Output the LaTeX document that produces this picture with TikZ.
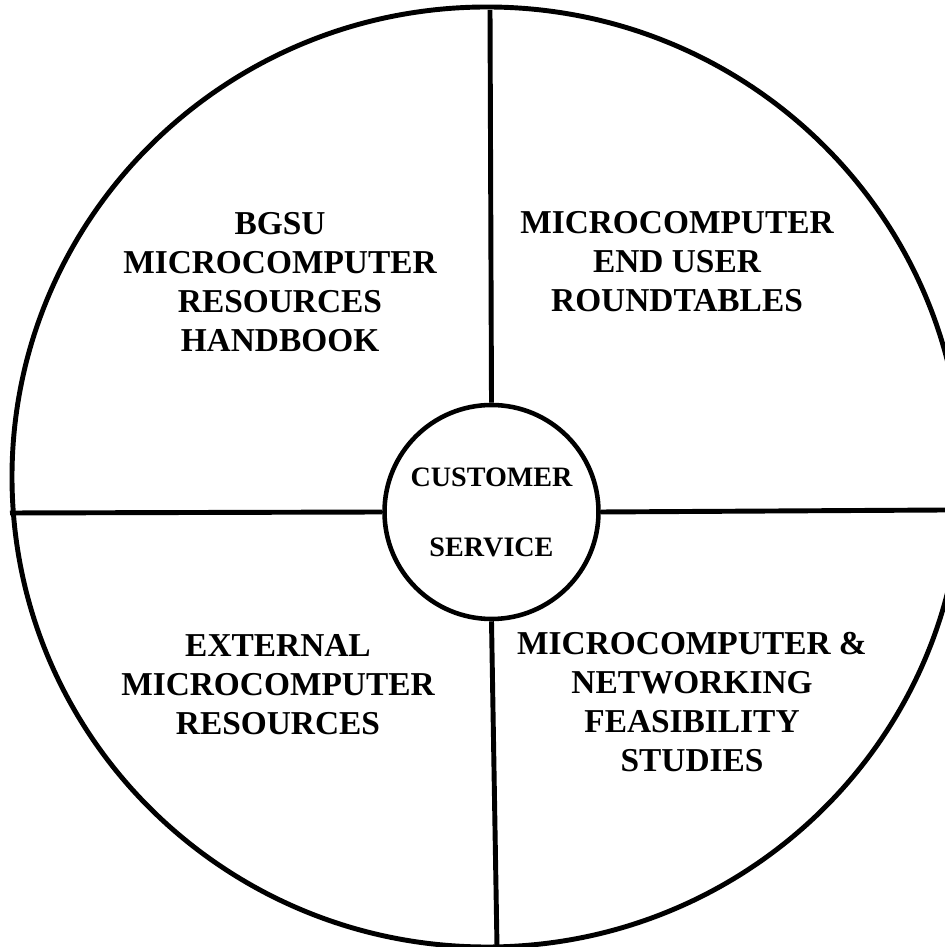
\documentclass[tikz,border=0pt]{standalone}
\usepackage{fontspec}
\setmainfont{Liberation Serif}
\begin{document}
\begin{tikzpicture}[
 rim/.style={line width=1.4pt},
 quadtext/.style={font=\bfseries\fontsize{9.5}{11.1}\selectfont, align=center},
 hub/.style={circle, draw, line width=1.3pt, minimum size=2.14cm, inner sep=0pt,
  align=center, font=\bfseries\fontsize{8}{19.9}\selectfont}]
\useasboundingbox (0,0) rectangle (9.45,9.47);
\clip (0,0) rectangle (9.45,9.47);
\draw[rim] (4.87,4.70) ellipse [x radius=4.75, y radius=4.70];
\node[hub] (cs) at (4.915,4.35) {CUSTOMER\\SERVICE};
\coordinate (top) at (4.90,9.37);
\coordinate (bot) at (4.97,0);
\coordinate (lft) at (0.10,4.34);
\coordinate (rgt) at (9.45,4.37);
\draw[rim] (top) -- (cs.north);
\draw[rim] (cs.south) -- (bot);
\draw[rim] (lft) -- (cs.west);
\draw[rim] (cs.east) -- (rgt);
\node[quadtext] (hbook) at (2.80,6.65) {BGSU\\MICROCOMPUTER\\RESOURCES\\HANDBOOK};
\node[quadtext] (round) at (6.77,6.85) {MICROCOMPUTER\\END USER\\ROUNDTABLES};
\node[quadtext] (extern) at (2.78,2.62) {EXTERNAL\\MICROCOMPUTER\\RESOURCES};
\node[quadtext] (feas) at (6.92,2.45) {MICROCOMPUTER \&\\NETWORKING\\FEASIBILITY\\STUDIES};
\end{tikzpicture}
\end{document}
